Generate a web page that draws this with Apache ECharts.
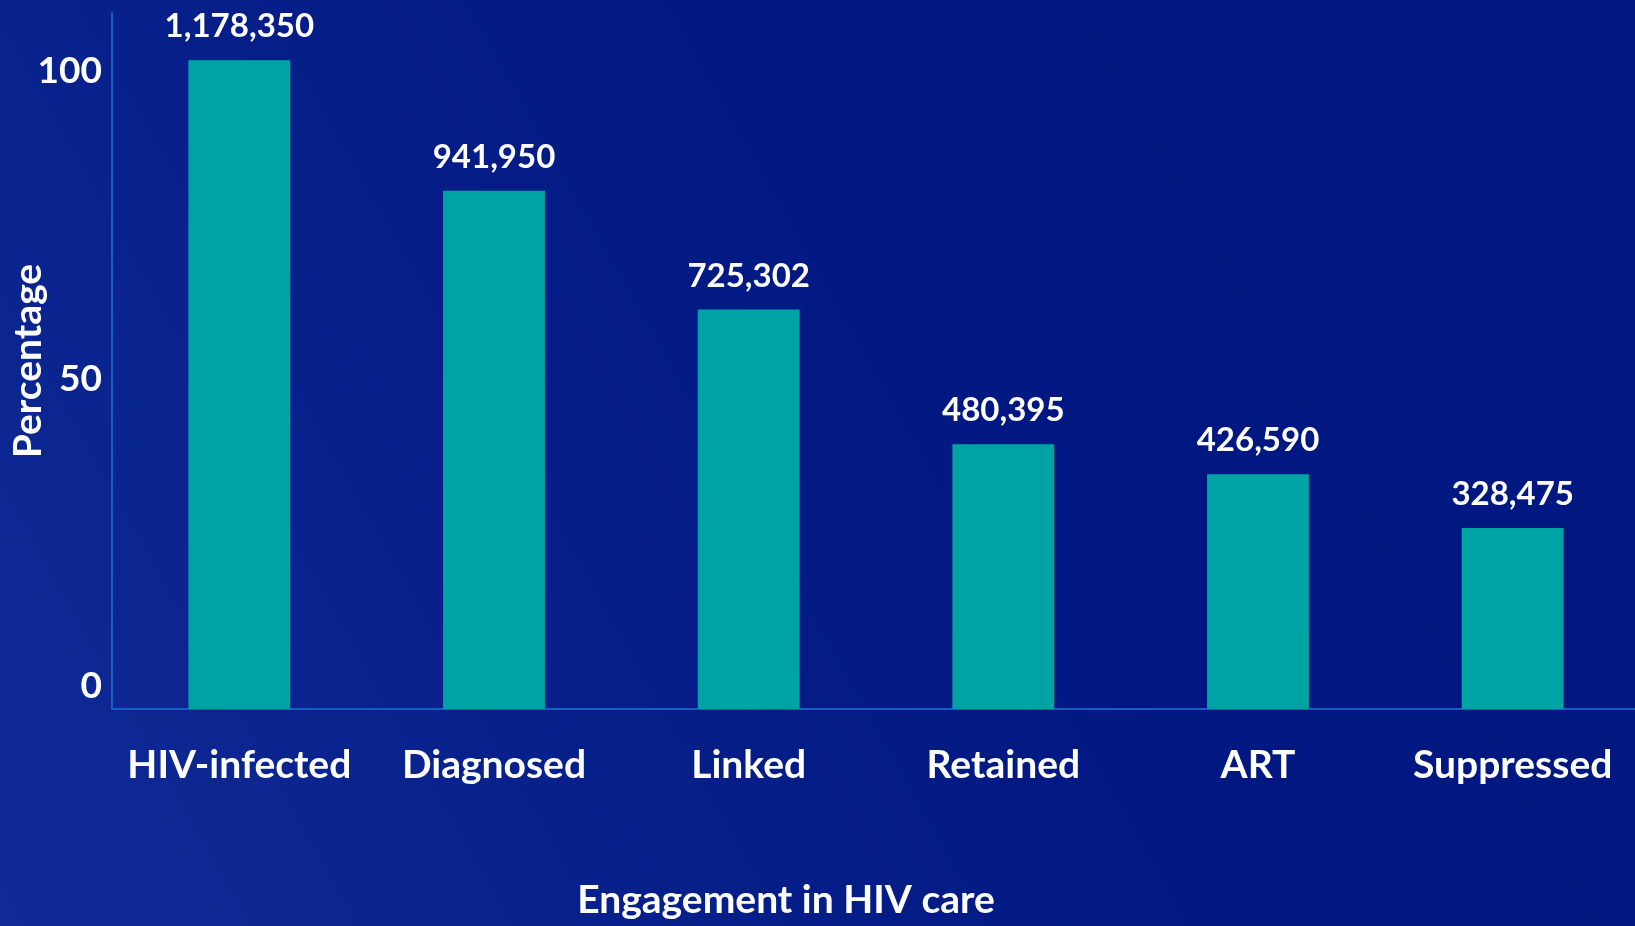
<!DOCTYPE html>
<html>
<head>
<meta charset="utf-8">
<style>
    html, body { margin: 0; padding: 0; width: 100%; height: 100%; overflow: hidden; }
    #chart { width: 1635px; height: 926px; }
</style>
<script src="https://cdn.jsdelivr.net/npm/echarts@6/dist/echarts.min.js"></script>
</head>
<body>
<div id="chart"></div>
<script>
// HIV care cascade - bars as percent of infected, labels show counts
const stages = ['HIV-infected', 'Diagnosed', 'Linked', 'Retained', 'ART', 'Suppressed'];
const percents = [100, 79.9, 61.6, 40.8, 36.2, 27.9];
const counts = ['1,178,350', '941,950', '725,302', '480,395', '426,590', '328,475'];
const yTicks = [0, 50, 100];

const FONT = 'Lato, "Open Sans", sans-serif';

const chart = echarts.init(document.getElementById('chart'));

const option = {
    backgroundColor: new echarts.graphic.LinearGradient(0, 1, 1, 0, [
        { offset: 0, color: '#102b98' },
        { offset: 0.35, color: '#061e88' },
        { offset: 0.6, color: '#011882' },
        { offset: 1, color: '#001880' }
    ]),
    animation: false,
    grid: {
        left: 112,
        right: -5,
        top: 13,
        bottom: 217,
        containLabel: false,
        outerBoundsMode: 'none'
    },
    xAxis: {
        type: 'category',
        data: stages,
        name: 'Engagement in HIV care',
        nameLocation: 'middle',
        nameGap: 172,
        nameTextStyle: {
            color: '#fff',
            fontFamily: FONT,
            fontWeight: 'bold',
            fontSize: 39,
            padding: [0, 180, 0, 0]
        },
        axisLine: { lineStyle: { color: '#1a5cc4', width: 2 } },
        axisTick: { show: false },
        axisLabel: {
            interval: 0,
            color: '#fff',
            fontFamily: FONT,
            fontWeight: 'bold',
            fontSize: 39,
            margin: 37
        }
    },
    yAxis: [{
        type: 'value',
        min: 0,
        max: 107.3,
        axisLine: { show: true, lineStyle: { color: '#1a5cc4', width: 2 } },
        axisTick: { show: false },
        axisLabel: { show: false },
        splitLine: { show: false }
    }, {
        // label axis, stretched to where the original ticks sit
        type: 'value',
        position: 'left',
        min: -3.66,
        max: 109.51,
        name: 'Percentage',
        nameLocation: 'middle',
        nameRotate: 90,
        nameGap: 64,
        nameMoveOverlap: false,
        nameTextStyle: {
            color: '#fff',
            fontFamily: FONT,
            fontWeight: 'bold',
            fontSize: 39
        },
        axisLine: { show: false },
        axisTick: { show: false },
        splitLine: { show: false },
        axisLabel: {
            customValues: yTicks,
            color: '#fff',
            fontFamily: FONT,
            fontWeight: 'bold',
            fontSize: 37,
            margin: 10
        }
    }],
    series: [{
        type: 'bar',
        yAxisIndex: 0,
        data: percents,
        barWidth: '40%',
        itemStyle: { color: '#00a3a3' },
        label: {
            show: true,
            position: 'top',
            distance: 17,
            color: '#fff',
            fontFamily: FONT,
            fontWeight: 'bold',
            fontSize: 33,
            formatter: (p) => counts[p.dataIndex]
        }
    }]
};

chart.setOption(option);
</script>
</body>
</html>
